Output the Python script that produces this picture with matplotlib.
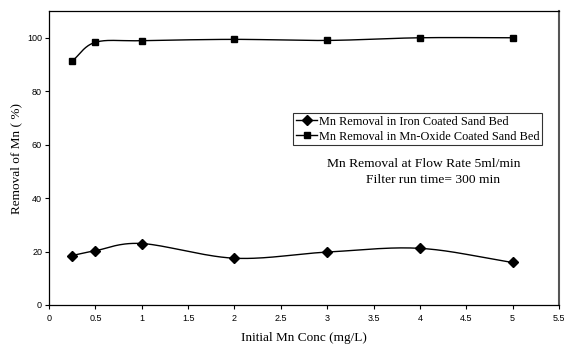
import numpy as np
import matplotlib
matplotlib.use('Agg')
from matplotlib import pyplot as plt

# data
conc = [0.25, 0.5, 1, 2, 3, 4, 5]
iron_removal = [18.5, 20.3, 23.0, 17.5, 19.8, 21.2, 15.9]
oxide_removal = [91.3, 98.3, 98.9, 99.4, 99.0, 100.0, 100.0]

labels = ['Mn Removal in Iron Coated Sand Bed',
          'Mn Removal in Mn-Oxide Coated Sand Bed']
note_lines = ['Mn Removal at Flow Rate 5ml/min', 'Filter run time= 300 min']
xticks = np.arange(0, 5.51, 0.5)
yticks = [0, 20, 40, 60, 80, 100]


def smooth(x, y, n=30):
    # Catmull-Rom style smoothing, like the spreadsheet's smoothed line
    x = np.asarray(x, float)
    y = np.asarray(y, float)
    px = np.concatenate([[2 * x[0] - x[1]], x, [2 * x[-1] - x[-2]]])
    py = np.concatenate([[2 * y[0] - y[1]], y, [2 * y[-1] - y[-2]]])
    xs, ys = [], []
    t = np.linspace(0, 1, n)
    for i in range(1, len(px) - 2):
        for p, out in ((px, xs), (py, ys)):
            p0, p1, p2, p3 = p[i - 1], p[i], p[i + 1], p[i + 2]
            out.extend(0.5 * ((2 * p1) + (-p0 + p2) * t
                              + (2 * p0 - 5 * p1 + 4 * p2 - p3) * t ** 2
                              + (-p0 + 3 * p1 - 3 * p2 + p3) * t ** 3))
    return np.array(xs), np.array(ys)


serif = ['Liberation Serif', 'DejaVu Serif']
sans = ['Liberation Sans', 'DejaVu Sans']

fig = plt.figure(figsize=(5.64, 3.45), dpi=100)
ax = fig.add_axes([0.087, 0.116, 0.904, 0.852])

for yv, mk, ms, lab in ((iron_removal, 'D', 5, labels[0]),
                        (oxide_removal, 's', 5, labels[1])):
    sx, sy = smooth(conc, yv)
    ax.plot(sx, sy, color='black', lw=1.0)
    ax.plot(conc, yv, linestyle='none', marker=mk, ms=ms, color='black')
    ax.plot([], [], color='black', lw=1.0, marker=mk, ms=ms, label=lab)

ax.set_xlim(0, 5.5)
ax.set_ylim(0, 110)
ax.set_xticks(xticks)
ax.set_xticklabels([f'{v:g}' for v in xticks])
ax.set_yticks(yticks)
for t in ax.get_xticklabels() + ax.get_yticklabels():
    t.set_family(sans)
    t.set_fontsize(6.5)
ax.tick_params(direction='out', length=3, width=0.8)
ax.tick_params(axis='x', pad=3.5)
ax.tick_params(axis='y', pad=2)

ax.set_xlabel('Initial Mn Conc (mg/L)', family=serif, fontsize=9.5, labelpad=6.5)
ax.set_ylabel('Removal of Mn ( %)', family=serif, fontsize=9.5)
ax.yaxis.set_label_coords(-0.053, 0.5)

for s in ax.spines.values():
    s.set_linewidth(0.9)
ax.spines['right'].set_color('#555555')
ax.spines['right'].set_linewidth(1.5)

leg = ax.legend(loc='upper left', bbox_to_anchor=(2.636, 71.8),
                bbox_transform=ax.transData,
                prop={'family': serif, 'size': 8.8}, frameon=True,
                fancybox=False, edgecolor='black', handlelength=1.75,
                handletextpad=0.15, borderpad=0.2, labelspacing=0.25,
                borderaxespad=0)
leg.get_frame().set_linewidth(0.8)

ax.text(4.04, 52.7, note_lines[0], family=serif, fontsize=9.7, ha='center',
        va='center')
ax.text(4.14, 46.7, note_lines[1], family=serif, fontsize=9.7, ha='center',
        va='center')

fig.savefig('out.png', dpi=100)
